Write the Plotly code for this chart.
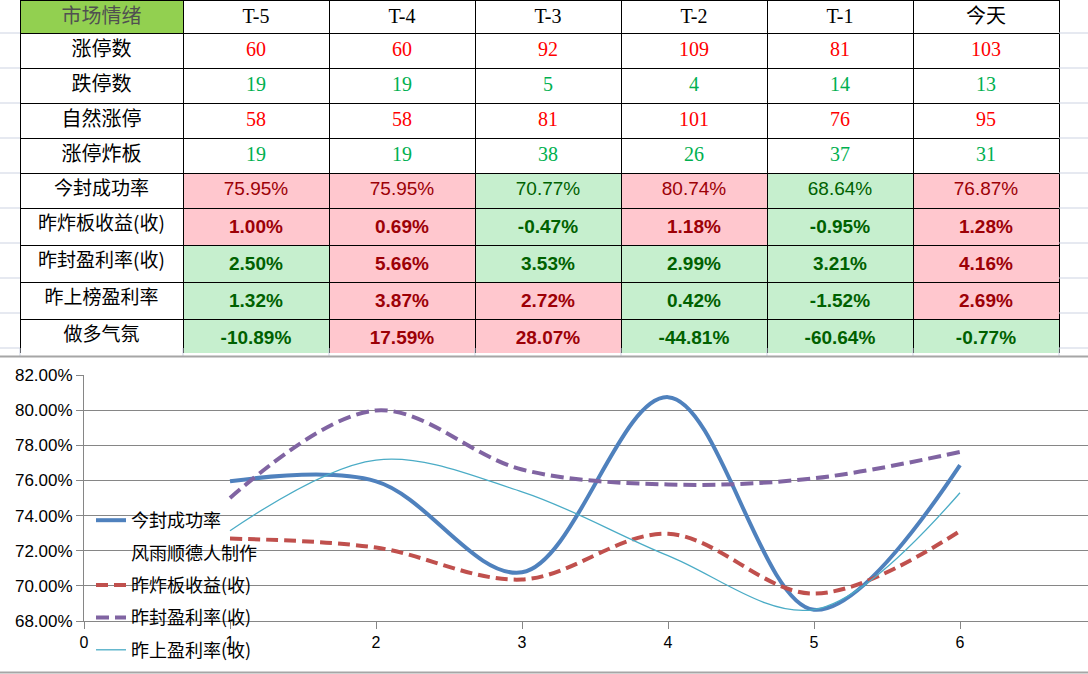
import plotly.graph_objects as go

W, H = 1088, 674

# ---------------- data ----------------
days = ["T-5", "T-4", "T-3", "T-2", "T-1", "今天"]
count_labels = ["涨停数", "跌停数", "自然涨停", "涨停炸板"]
rate_labels = ["今封成功率", "昨炸板收益(收)", "昨封盈利率(收)", "昨上榜盈利率", "做多气氛"]
limit_up = [60, 60, 92, 109, 81, 103]
limit_down = [19, 19, 5, 4, 14, 13]
natural_up = [58, 58, 81, 101, 76, 95]
broken = [19, 19, 38, 26, 37, 31]
seal_rate = [75.95, 75.95, 70.77, 80.74, 68.64, 76.87]
broken_ret = [1.00, 0.69, -0.47, 1.18, -0.95, 1.28]
seal_profit = [2.50, 5.66, 3.53, 2.99, 3.21, 4.16]
list_profit = [1.32, 3.87, 2.72, 0.42, -1.52, 2.69]
long_mood = [-10.89, 17.59, 28.07, -44.81, -60.64, -0.77]
# conditional format per cell (True = pink/red, False = green)
seal_rate_up = [True, True, False, True, False, True]
broken_ret_up = [True, True, False, True, False, True]
seal_profit_up = [False, True, False, False, False, True]
list_profit_up = [False, True, True, False, False, True]
long_mood_up = [False, True, True, False, False, False]

# chart series
xs = [1, 2, 3, 4, 5, 6]
chart_seal_rate = [75.95, 75.95, 70.77, 80.74, 68.64, 76.87]
chart_broken_ret = [72.69, 72.18, 70.36, 72.96, 69.56, 73.12]
chart_seal_profit = [75.0, 79.98, 76.62, 75.77, 76.12, 77.62]
chart_list_profit = [73.14, 77.16, 75.35, 71.72, 68.65, 75.30]
y_ticks = [68, 70, 72, 74, 76, 78, 80, 82]
x_ticks = [0, 1, 2, 3, 4, 5, 6]

# ---------------- helpers (window pixel -> paper) ----------------
def px(x):
    return x / W

def py(y):
    return 1 - y / H

RED, GREEN = "#FF0000", "#00B050"
PINK_F, PINK_T = "#FFC7CE", "#9C0006"
GRN_F, GRN_T = "#C6EFCE", "#006100"
CJK = "Noto Sans CJK SC"
SERIF = "Liberation Serif, Noto Sans CJK SC"
SANS = "Liberation Sans, Noto Sans CJK SC"

# ---- table 1: header + count rows ----
t1_vals = [count_labels]
t1_colors = [["black"] * 4]
for i in range(6):
    t1_vals.append([str(limit_up[i]), str(limit_down[i]), str(natural_up[i]), str(broken[i])])
    t1_colors.append([RED, GREEN, RED, GREEN])

# ---- table 2: first rate row as header, then bold rate rows ----
t2_head = [rate_labels[0]] + [f"{v:.2f}%" for v in seal_rate]
t2_head_fill = ["white"] + [PINK_F if f else GRN_F for f in seal_rate_up]
t2_head_col = ["black"] + [PINK_T if f else GRN_T for f in seal_rate_up]
t2_vals = [rate_labels[1:]]
t2_fill = [["white"] * 4]
t2_colors = [["black"] * 4]
for i in range(6):
    t2_vals.append([f"<b>{broken_ret[i]:.2f}%</b>",
                    f"<b>{seal_profit[i]:.2f}%</b>",
                    f"<b>{list_profit[i]:.2f}%</b>",
                    f"<b>{long_mood[i]:.2f}%</b>"])
    flags = [broken_ret_up[i], seal_profit_up[i], list_profit_up[i], long_mood_up[i]]
    t2_fill.append([PINK_F if f else GRN_F for f in flags])
    t2_colors.append([PINK_T if f else GRN_T for f in flags])

fig = go.Figure()

colw = [163] + [146] * 6
fig.add_trace(go.Table(
    domain=dict(x=[px(20), px(1059)], y=[py(176), 1]),
    columnwidth=colw,
    header=dict(
        values=["市场情绪"] + days,
        fill_color=["#92D050"] + ["white"] * 6,
        font=dict(family=[CJK] + [SERIF] * 6, size=20, color=["#505050"] + ["black"] * 6),
        line=dict(color="black", width=1),
        align="center", height=33,
    ),
    cells=dict(
        values=t1_vals,
        fill_color="white",
        font=dict(family=[CJK] + [SERIF] * 6, size=20, color=t1_colors),
        line=dict(color="black", width=1),
        align="center", height=35,
    ),
))

fig.add_trace(go.Table(
    domain=dict(x=[px(20), px(1059)], y=[py(353), py(173)]),
    columnwidth=colw,
    header=dict(
        values=t2_head,
        fill_color=t2_head_fill,
        font=dict(family=[CJK] + [SANS] * 6, size=19, color=t2_head_col),
        line=dict(color="black", width=1),
        align="center", height=35,
    ),
    cells=dict(
        values=t2_vals,
        fill_color=t2_fill,
        font=dict(family=[CJK] + [SANS] * 6, size=19, color=t2_colors),
        line=dict(color="black", width=1),
        align="center", height=35,
    ),
))

# chart traces
fig.add_trace(go.Scatter(x=xs, y=chart_seal_rate, mode="lines", name="今封成功率",
                         line=dict(color="#4F81BD", width=4, shape="spline", smoothing=1),
                         legendgroup="a"))
fig.add_trace(go.Scatter(x=xs, y=[None] * 6, mode="lines", name="风雨顺德人制作",
                         line=dict(color="rgba(0,0,0,0)", width=0), legendgroup="b"))
fig.add_trace(go.Scatter(x=xs, y=chart_broken_ret, mode="lines", name="昨炸板收益(收)",
                         line=dict(color="#C0504D", width=4, dash="12px,6px", shape="spline", smoothing=1),
                         legendgroup="c"))
fig.add_trace(go.Scatter(x=xs, y=chart_seal_profit, mode="lines", name="昨封盈利率(收)",
                         line=dict(color="#8064A2", width=4, dash="13px,6px", shape="spline", smoothing=1),
                         legendgroup="d"))
fig.add_trace(go.Scatter(x=xs, y=chart_list_profit, mode="lines", name="昨上盈利率(收)",
                         line=dict(color="#4BACC6", width=1.3, shape="spline", smoothing=1),
                         legendgroup="e"))

shapes = []
LIGHT = "#CDD3E2"
for yy in [33, 68, 103, 138, 173, 208, 243, 278, 313, 348]:
    shapes.append(dict(type="line", xref="paper", yref="paper", x0=0, x1=px(20), y0=py(yy), y1=py(yy),
                       line=dict(color=LIGHT, width=1)))
    shapes.append(dict(type="line", xref="paper", yref="paper", x0=px(1059), x1=1, y0=py(yy), y1=py(yy),
                       line=dict(color=LIGHT, width=1)))
for xx in [20, 183, 329, 475, 621, 767, 913, 1059]:
    shapes.append(dict(type="line", xref="paper", yref="paper", x0=px(xx), x1=px(xx), y0=py(348), y1=py(356),
                       line=dict(color=LIGHT, width=1)))
shapes.append(dict(type="line", xref="paper", yref="paper", x0=0, x1=1, y0=py(356.5), y1=py(356.5),
                   line=dict(color="#A6A6A6", width=2)))
shapes.append(dict(type="line", xref="paper", yref="paper", x0=0, x1=1, y0=py(672.5), y1=py(672.5),
                   line=dict(color="#A6A6A6", width=2)))

fig.update_layout(
    width=W, height=H,
    margin=dict(l=0, r=0, t=0, b=0, autoexpand=False),
    paper_bgcolor="white", plot_bgcolor="white",
    shapes=shapes,
    showlegend=True,
    legend=dict(x=px(91), y=py(668), xanchor="left", yanchor="bottom",
                bgcolor="rgba(0,0,0,0)", tracegroupgap=6,
                font=dict(family=CJK, size=18, color="black")),
    xaxis=dict(domain=[px(84), 1], range=[0, (W - 84) / 146], tickvals=x_ticks, automargin=False,
               ticks="outside", ticklen=7, tickcolor="#868686",
               showline=True, linecolor="#868686", linewidth=1, showgrid=False, zeroline=False,
               tickfont=dict(family="Liberation Sans", size=16, color="black")),
    yaxis=dict(domain=[py(621), py(375)], range=[68, 82], tickvals=y_ticks, automargin=False,
               ticktext=[f"{v:.2f}%" for v in y_ticks],
               ticks="outside", ticklen=7, tickcolor="#868686",
               showline=True, linecolor="#868686", linewidth=1,
               showgrid=True, gridcolor="#868686", gridwidth=1, zeroline=False,
               tickfont=dict(family="Liberation Sans", size=17, color="black")),
)

# remove the default 8px page margin so the 1088x674 figure fills the window exactly
fig.write_html("out.html", config={"displayModeBar": False},
               post_script="document.body.style.margin='0';")
